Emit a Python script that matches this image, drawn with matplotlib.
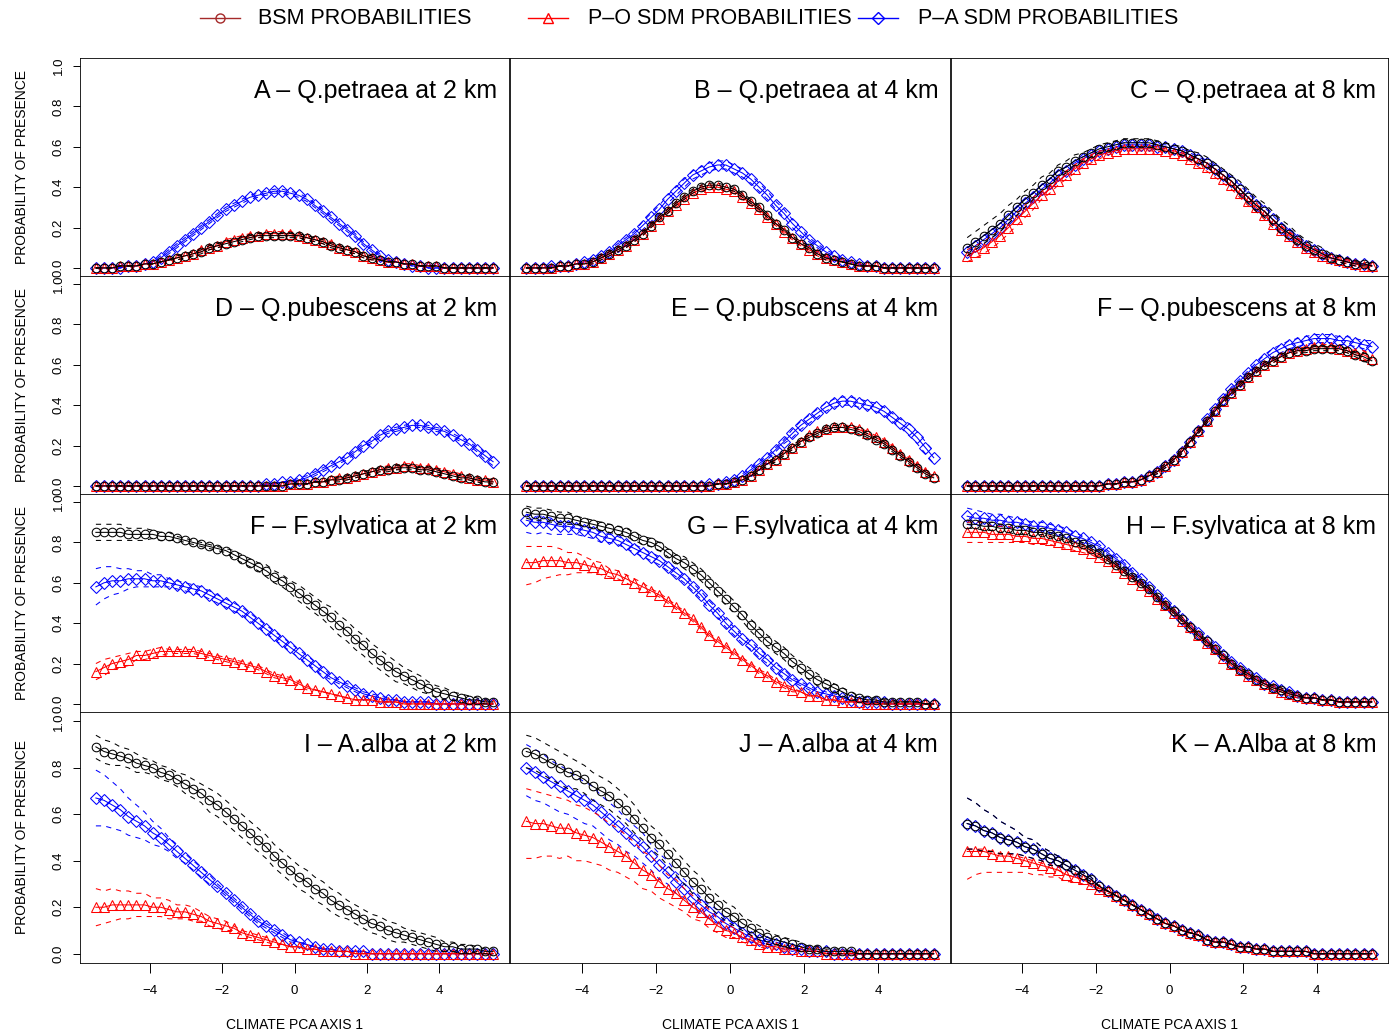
import numpy as np
import matplotlib
matplotlib.use("Agg")
import matplotlib.pyplot as plt

plt.rcParams['font.family'] = ['Liberation Sans', 'DejaVu Sans']

# climate PCA axis 1 sampling grid (50 points)
x = np.linspace(-5.5, 5.5, 50)

# ---- probabilities in percent; *_ci = half width of the dashed band (percent) ----
# Q. petraea 2 km
pet2_bsm = [0, 0, 0, 1, 1, 1, 2, 2, 3, 4,
            5, 6, 7, 8, 10, 11, 12, 13, 14, 15,
            16, 16, 16, 16, 16, 16, 15, 14, 13, 11,
            10, 9, 8, 6, 5, 4, 3, 3, 2, 2,
            1, 1, 1, 0, 0, 0, 0, 0, 0, 0]
pet2_po = [0, 0, 0, 1, 1, 1, 2, 2, 3, 4,
           5, 6, 7, 9, 10, 11, 13, 14, 15, 16,
           16, 17, 17, 17, 17, 16, 15, 14, 13, 12,
           10, 9, 8, 6, 5, 4, 3, 3, 2, 2,
           1, 1, 1, 0, 0, 0, 0, 0, 0, 0]
pet2_pa = [0, 0, 0, 0, 1, 1, 2, 3, 5, 8,
           11, 14, 17, 20, 23, 26, 29, 31, 33, 35,
           36, 37, 38, 38, 37, 36, 34, 31, 28, 25,
           22, 19, 16, 12, 9, 6, 4, 3, 2, 1,
           1, 0, 0, 0, 0, 0, 0, 0, 0, 0]
pet2_ci = [0, 0, 0, 0, 0, 0, 0, 0, 0, 0,
           1, 1, 1, 1, 1, 1, 1, 1, 1, 1,
           1, 1, 1, 1, 1, 1, 1, 1, 1, 1,
           1, 1, 1, 1, 1, 0, 0, 0, 0, 0,
           0, 0, 0, 0, 0, 0, 0, 0, 0, 0]
pet2_pa_ci = [0, 0, 0, 0, 0, 0, 0, 0, 1, 1,
              1, 1, 1, 1, 1, 1, 1, 1, 1, 1,
              1, 1, 1, 1, 1, 1, 1, 1, 1, 1,
              1, 1, 1, 1, 1, 1, 0, 0, 0, 0,
              0, 0, 0, 0, 0, 0, 0, 0, 0, 0]

# Q. petraea 4 km
pet4_bsm = [0, 0, 0, 0, 1, 1, 2, 2, 3, 5,
            7, 9, 11, 14, 17, 21, 25, 28, 32, 35,
            38, 40, 41, 41, 40, 39, 36, 33, 30, 26,
            22, 19, 15, 12, 10, 7, 5, 4, 3, 2,
            1, 1, 1, 0, 0, 0, 0, 0, 0, 0]
pet4_po = [0, 0, 0, 0, 1, 1, 2, 2, 3, 5,
           7, 9, 11, 14, 17, 21, 24, 28, 31, 34,
           37, 39, 40, 40, 39, 38, 35, 32, 29, 25,
           22, 18, 15, 12, 9, 7, 5, 4, 3, 2,
           1, 1, 1, 0, 0, 0, 0, 0, 0, 0]
pet4_pa = [0, 0, 0, 1, 1, 1, 2, 3, 4, 6,
           8, 11, 14, 17, 21, 25, 29, 34, 38, 42,
           46, 48, 50, 51, 51, 49, 47, 44, 40, 36,
           31, 27, 22, 18, 14, 11, 8, 6, 4, 3,
           2, 1, 1, 0, 0, 0, 0, 0, 0, 0]
pet4_ci = [0, 0, 0, 0, 0, 0, 0, 0, 1, 1,
           1, 1, 1, 1, 1, 1, 1, 1, 1, 1,
           1, 1, 1, 1, 1, 1, 1, 1, 1, 1,
           1, 1, 1, 1, 1, 1, 1, 0, 0, 0,
           0, 0, 0, 0, 0, 0, 0, 0, 0, 0]
pet4_pa_ci = [0, 0, 0, 0, 0, 0, 0, 1, 1, 1,
              1, 1, 1, 1, 2, 2, 2, 2, 2, 2,
              2, 2, 2, 2, 2, 2, 2, 2, 2, 2,
              2, 2, 2, 2, 1, 1, 1, 1, 1, 0,
              0, 0, 0, 0, 0, 0, 0, 0, 0, 0]

# Q. petraea 8 km
pet8_bsm = [10, 13, 16, 19, 22, 26, 30, 34, 37, 41,
            44, 48, 50, 53, 55, 57, 59, 60, 61, 62,
            62, 62, 62, 61, 60, 59, 58, 56, 54, 52,
            49, 46, 43, 39, 35, 31, 28, 24, 20, 17,
            14, 11, 9, 7, 5, 4, 3, 2, 2, 1]
pet8_po = [6, 8, 10, 13, 16, 20, 24, 28, 32, 36,
           39, 43, 46, 49, 52, 54, 56, 57, 58, 59,
           59, 59, 59, 59, 58, 57, 56, 54, 52, 50,
           47, 44, 41, 37, 33, 30, 26, 22, 19, 16,
           13, 10, 8, 6, 5, 4, 3, 2, 1, 1]
pet8_pa = [8, 11, 14, 17, 20, 24, 28, 32, 35, 39,
           42, 46, 48, 51, 54, 56, 58, 59, 60, 61,
           61, 61, 61, 60, 60, 59, 58, 56, 54, 52,
           49, 46, 43, 39, 35, 31, 28, 24, 20, 17,
           14, 11, 9, 7, 5, 4, 3, 2, 2, 1]
pet8_bsm_hi = [5, 5, 5, 5, 5, 5, 4, 4, 4, 4,
               3, 3, 3, 3, 2, 2, 2, 2, 2, 2,
               2, 2, 2, 2, 2, 2, 2, 2, 3, 3,
               3, 3, 3, 4, 4, 4, 4, 4, 4, 4,
               3, 3, 3, 3, 2, 2, 2, 1, 1, 1]
pet8_bsm_lo = [4, 4, 4, 4, 4, 4, 4, 4, 3, 3,
               3, 3, 3, 2, 2, 2, 2, 2, 2, 2,
               2, 2, 2, 2, 2, 2, 2, 2, 2, 2,
               2, 2, 2, 3, 3, 3, 3, 3, 3, 3,
               2, 2, 2, 2, 2, 1, 1, 1, 1, 0]
pet8_po_ci = [3, 3, 3, 3, 3, 3, 3, 3, 3, 2,
              2, 2, 2, 2, 2, 2, 2, 1, 1, 1,
              1, 1, 1, 1, 1, 1, 1, 1, 2, 2,
              2, 2, 2, 2, 2, 2, 2, 2, 2, 2,
              2, 2, 2, 1, 1, 1, 1, 1, 1, 0]
pet8_pa_ci = [2, 2, 2, 2, 2, 2, 2, 2, 2, 2,
              2, 2, 2, 1, 1, 1, 1, 1, 1, 1,
              1, 1, 1, 1, 1, 1, 1, 1, 1, 1,
              1, 1, 2, 2, 2, 2, 2, 2, 2, 2,
              1, 1, 1, 1, 1, 1, 1, 1, 0, 0]

# Q. pubescens 2 km
pub2_bsm = [0, 0, 0, 0, 0, 0, 0, 0, 0, 0,
            0, 0, 0, 0, 0, 0, 0, 0, 0, 0,
            0, 0, 0, 0, 1, 1, 1, 2, 2, 3,
            3, 4, 5, 6, 7, 8, 8, 9, 9, 9,
            8, 8, 7, 6, 5, 4, 4, 3, 2, 2]
pub2_po = [0, 0, 0, 0, 0, 0, 0, 0, 0, 0,
           0, 0, 0, 0, 0, 0, 0, 0, 0, 0,
           0, 0, 0, 0, 1, 1, 1, 2, 2, 3,
           4, 4, 5, 6, 7, 8, 9, 9, 10, 10,
           9, 9, 8, 7, 6, 5, 4, 3, 3, 2]
pub2_pa = [0, 0, 0, 0, 0, 0, 0, 0, 0, 0,
           0, 0, 0, 0, 0, 0, 0, 0, 0, 0,
           0, 1, 1, 2, 2, 3, 4, 6, 8, 10,
           12, 14, 17, 20, 22, 25, 27, 28, 29, 30,
           30, 29, 28, 27, 25, 23, 21, 18, 15, 12]
pub2_ci = [0, 0, 0, 0, 0, 0, 0, 0, 0, 0,
           0, 0, 0, 0, 0, 0, 0, 0, 0, 0,
           0, 0, 0, 0, 0, 0, 0, 0, 0, 1,
           1, 1, 1, 1, 1, 1, 1, 1, 1, 1,
           1, 1, 1, 1, 1, 1, 1, 1, 1, 1]
pub2_pa_ci = [0, 0, 0, 0, 0, 0, 0, 0, 0, 0,
              0, 0, 0, 0, 0, 0, 0, 0, 0, 0,
              0, 0, 0, 0, 0, 1, 1, 1, 1, 1,
              1, 1, 1, 1, 1, 1, 1, 1, 1, 1,
              1, 1, 1, 1, 1, 1, 1, 1, 2, 2]

# Q. pubescens 4 km
pub4_bsm = [0, 0, 0, 0, 0, 0, 0, 0, 0, 0,
            0, 0, 0, 0, 0, 0, 0, 0, 0, 0,
            0, 0, 0, 1, 1, 2, 3, 5, 8, 11,
            13, 16, 19, 22, 24, 26, 28, 29, 29, 28,
            27, 25, 23, 21, 18, 15, 12, 9, 6, 4]
pub4_po = [0, 0, 0, 0, 0, 0, 0, 0, 0, 0,
           0, 0, 0, 0, 0, 0, 0, 0, 0, 0,
           0, 0, 0, 1, 1, 2, 3, 5, 8, 11,
           13, 16, 19, 22, 25, 27, 28, 29, 29, 29,
           28, 26, 24, 22, 19, 16, 13, 10, 7, 5]
pub4_pa = [0, 0, 0, 0, 0, 0, 0, 0, 0, 0,
           0, 0, 0, 0, 0, 0, 0, 0, 0, 0,
           0, 0, 1, 1, 2, 3, 5, 8, 11, 14,
           18, 22, 26, 30, 33, 36, 39, 41, 42, 42,
           41, 40, 39, 37, 34, 31, 28, 24, 19, 14]
pub4_ci = [0, 0, 0, 0, 0, 0, 0, 0, 0, 0,
           0, 0, 0, 0, 0, 0, 0, 0, 0, 0,
           0, 0, 0, 0, 0, 0, 1, 1, 1, 1,
           1, 1, 1, 1, 1, 1, 1, 1, 1, 1,
           1, 1, 1, 1, 1, 1, 1, 1, 1, 1]
pub4_pa_ci = [0, 0, 0, 0, 0, 0, 0, 0, 0, 0,
              0, 0, 0, 0, 0, 0, 0, 0, 0, 0,
              0, 0, 0, 0, 1, 1, 1, 1, 1, 1,
              1, 1, 2, 2, 2, 2, 2, 2, 2, 2,
              2, 2, 2, 2, 2, 2, 3, 3, 3, 3]

# Q. pubescens 8 km
pub8_bsm = [0, 0, 0, 0, 0, 0, 0, 0, 0, 0,
            0, 0, 0, 0, 0, 0, 0, 1, 1, 2,
            2, 3, 5, 7, 10, 13, 17, 22, 27, 32,
            37, 42, 46, 50, 54, 57, 60, 62, 64, 66,
            67, 67, 68, 68, 68, 68, 67, 65, 64, 62]
pub8_po = [0, 0, 0, 0, 0, 0, 0, 0, 0, 0,
           0, 0, 0, 0, 0, 0, 0, 1, 1, 2,
           2, 3, 5, 7, 10, 13, 17, 22, 27, 32,
           37, 42, 46, 50, 54, 57, 60, 62, 64, 66,
           67, 68, 69, 69, 69, 68, 67, 66, 65, 63]
pub8_pa = [0, 0, 0, 0, 0, 0, 0, 0, 0, 0,
           0, 0, 0, 0, 0, 0, 0, 1, 1, 2,
           2, 3, 5, 7, 10, 13, 17, 22, 27, 33,
           38, 43, 48, 52, 56, 60, 63, 66, 68, 70,
           71, 72, 73, 73, 73, 72, 72, 71, 70, 69]
pub8_ci = [0, 0, 0, 0, 0, 0, 0, 0, 0, 0,
           0, 0, 0, 0, 0, 0, 0, 0, 0, 0,
           0, 0, 0, 1, 1, 1, 1, 1, 1, 1,
           1, 1, 1, 1, 1, 1, 1, 1, 1, 1,
           1, 1, 1, 1, 1, 1, 1, 1, 2, 2]
pub8_pa_ci = [0, 0, 0, 0, 0, 0, 0, 0, 0, 0,
              0, 0, 0, 0, 0, 0, 0, 0, 0, 0,
              0, 0, 1, 1, 1, 1, 1, 1, 1, 1,
              1, 1, 1, 1, 1, 1, 2, 2, 2, 2,
              2, 2, 2, 2, 2, 2, 2, 2, 2, 3]

# F. sylvatica 2 km
syl2_bsm = [85, 85, 85, 85, 84, 84, 84, 84, 83, 83,
            82, 81, 80, 79, 78, 77, 76, 74, 72, 70,
            68, 66, 63, 61, 58, 55, 52, 49, 46, 43,
            39, 36, 32, 29, 25, 22, 19, 16, 14, 12,
            10, 8, 6, 5, 4, 3, 2, 2, 1, 1]
syl2_po = [16, 18, 20, 21, 22, 24, 24, 25, 26, 26,
           26, 26, 26, 25, 24, 23, 22, 21, 20, 19,
           18, 16, 14, 13, 12, 10, 8, 7, 6, 5,
           4, 3, 2, 2, 2, 1, 1, 1, 0, 0,
           0, 0, 0, 0, 0, 0, 0, 0, 0, 0]
syl2_pa = [58, 60, 61, 61, 62, 62, 62, 61, 61, 60,
           59, 58, 57, 56, 54, 52, 50, 48, 46, 43,
           40, 37, 34, 31, 28, 25, 22, 19, 16, 13,
           11, 9, 7, 5, 4, 3, 2, 2, 1, 1,
           1, 1, 0, 0, 0, 0, 0, 0, 0, 0]
syl2_bsm_ci = [4, 4, 4, 4, 3, 3, 3, 2, 2, 2,
               1, 1, 1, 1, 1, 1, 1, 2, 2, 2,
               2, 3, 3, 3, 3, 4, 4, 4, 4, 5,
               5, 5, 5, 5, 5, 5, 5, 5, 4, 4,
               4, 3, 3, 3, 2, 2, 2, 1, 1, 1]
syl2_po_ci = [4, 4, 3, 3, 3, 2, 2, 2, 2, 1,
              1, 1, 1, 1, 1, 1, 1, 1, 1, 1,
              1, 1, 1, 1, 1, 1, 1, 0, 0, 0,
              0, 0, 0, 0, 0, 0, 0, 0, 0, 0,
              0, 0, 0, 0, 0, 0, 0, 0, 0, 0]
syl2_pa_ci = [9, 8, 7, 6, 5, 4, 4, 3, 3, 2,
              2, 2, 2, 2, 2, 2, 2, 2, 2, 2,
              2, 2, 2, 2, 2, 2, 2, 2, 2, 1,
              1, 1, 1, 1, 1, 1, 1, 0, 0, 0,
              0, 0, 0, 0, 0, 0, 0, 0, 0, 0]

# F. sylvatica 4 km
syl4_bsm = [95, 94, 94, 93, 92, 92, 91, 90, 89, 88,
            87, 86, 85, 83, 81, 80, 78, 75, 72, 70,
            67, 64, 60, 56, 52, 48, 44, 39, 35, 31,
            28, 25, 21, 18, 15, 12, 10, 8, 6, 4,
            3, 2, 2, 1, 1, 1, 1, 1, 0, 0]
syl4_po = [70, 70, 71, 71, 71, 70, 70, 69, 68, 67,
           65, 64, 62, 60, 58, 56, 54, 51, 48, 45,
           42, 38, 34, 31, 28, 25, 22, 19, 16, 14,
           11, 9, 7, 6, 4, 4, 2, 2, 1, 1,
           1, 0, 0, 0, 0, 0, 0, 0, 0, 0]
syl4_pa = [91, 90, 90, 89, 88, 88, 87, 86, 85, 83,
           82, 81, 79, 77, 75, 73, 71, 68, 65, 62,
           58, 54, 49, 45, 40, 36, 32, 29, 25, 22,
           18, 15, 12, 10, 8, 6, 5, 4, 3, 2,
           1, 1, 1, 1, 0, 0, 0, 0, 0, 0]
syl4_bsm_ci = [3, 3, 3, 3, 3, 3, 2, 2, 2, 2,
               2, 2, 2, 2, 2, 2, 2, 2, 2, 3,
               3, 3, 3, 3, 3, 3, 3, 3, 3, 3,
               3, 3, 3, 3, 3, 3, 2, 2, 2, 2,
               1, 1, 1, 1, 1, 0, 0, 0, 0, 0]
syl4_po_hi = [8, 8, 7, 7, 6, 5, 5, 4, 3, 3,
              2, 2, 2, 2, 2, 1, 1, 1, 1, 1,
              1, 1, 1, 1, 1, 1, 1, 1, 1, 1,
              1, 1, 1, 0, 0, 0, 0, 0, 0, 0,
              0, 0, 0, 0, 0, 0, 0, 0, 0, 0]
syl4_po_lo = [11, 10, 9, 8, 7, 6, 5, 4, 3, 3,
              2, 2, 2, 2, 2, 1, 1, 1, 1, 1,
              1, 1, 1, 1, 1, 1, 1, 1, 1, 1,
              1, 1, 1, 0, 0, 0, 0, 0, 0, 0,
              0, 0, 0, 0, 0, 0, 0, 0, 0, 0]
syl4_pa_hi = [3, 3, 3, 3, 2, 2, 2, 2, 2, 2,
              2, 2, 2, 2, 2, 2, 2, 2, 2, 2,
              2, 2, 2, 2, 2, 2, 2, 2, 2, 2,
              2, 2, 1, 1, 1, 1, 1, 1, 1, 0,
              0, 0, 0, 0, 0, 0, 0, 0, 0, 0]
syl4_pa_lo = [6, 6, 5, 5, 4, 4, 3, 3, 3, 3,
              2, 2, 2, 2, 2, 2, 2, 2, 2, 2,
              2, 2, 2, 2, 2, 2, 2, 2, 2, 2,
              2, 2, 1, 1, 1, 1, 1, 1, 1, 0,
              0, 0, 0, 0, 0, 0, 0, 0, 0, 0]

# F. sylvatica 8 km
syl8_bsm = [89, 89, 88, 88, 87, 87, 86, 86, 85, 85,
            84, 83, 82, 80, 79, 77, 75, 72, 69, 66,
            63, 60, 57, 53, 49, 46, 42, 38, 34, 31,
            27, 24, 20, 17, 15, 12, 10, 8, 7, 5,
            4, 3, 3, 2, 2, 1, 1, 1, 1, 1]
syl8_po = [85, 85, 85, 84, 84, 84, 83, 83, 82, 82,
           81, 80, 79, 78, 77, 75, 73, 71, 68, 65,
           62, 59, 56, 52, 49, 45, 41, 38, 34, 30,
           27, 23, 20, 17, 14, 12, 10, 8, 6, 5,
           4, 3, 3, 2, 2, 1, 1, 1, 1, 1]
syl8_pa = [93, 92, 92, 91, 91, 90, 90, 89, 88, 88,
           87, 86, 85, 83, 82, 80, 78, 75, 72, 69,
           65, 62, 58, 54, 50, 46, 42, 38, 35, 31,
           28, 24, 21, 18, 15, 13, 10, 9, 7, 6,
           4, 3, 3, 2, 2, 1, 1, 1, 1, 1]
syl8_bsm_ci = [2, 2, 2, 2, 2, 2, 2, 2, 2, 1,
               1, 1, 1, 1, 1, 1, 1, 1, 1, 1,
               1, 1, 1, 1, 1, 1, 1, 1, 1, 1,
               1, 1, 1, 1, 1, 1, 1, 1, 1, 1,
               1, 0, 0, 0, 0, 0, 0, 0, 0, 0]
syl8_po_ci = [5, 5, 5, 4, 4, 4, 3, 3, 3, 3,
              2, 2, 2, 2, 2, 1, 1, 1, 1, 1,
              1, 1, 1, 1, 1, 1, 1, 1, 1, 1,
              1, 1, 1, 1, 1, 1, 1, 1, 1, 1,
              1, 0, 0, 0, 0, 0, 0, 0, 0, 0]
syl8_pa_ci = [4, 4, 3, 3, 3, 3, 2, 2, 2, 2,
              2, 2, 2, 2, 1, 1, 1, 1, 1, 1,
              1, 1, 1, 1, 1, 1, 1, 1, 1, 1,
              1, 1, 1, 1, 1, 1, 1, 1, 1, 1,
              1, 0, 0, 0, 0, 0, 0, 0, 0, 0]

# A. alba 2 km
alb2_bsm = [89, 87, 86, 85, 84, 82, 81, 80, 78, 77,
            75, 73, 71, 69, 66, 64, 61, 58, 55, 52,
            49, 46, 42, 39, 36, 33, 31, 28, 26, 23,
            21, 19, 17, 15, 13, 12, 10, 9, 8, 7,
            6, 5, 4, 3, 3, 2, 2, 2, 1, 1]
alb2_po = [20, 20, 21, 21, 21, 21, 21, 20, 20, 19,
           18, 18, 17, 16, 14, 13, 12, 11, 9, 8,
           7, 6, 5, 4, 3, 3, 2, 2, 1, 1,
           1, 1, 0, 0, 0, 0, 0, 0, 0, 0,
           0, 0, 0, 0, 0, 0, 0, 0, 0, 0]
alb2_pa = [67, 66, 64, 62, 59, 57, 55, 52, 50, 47,
           44, 41, 38, 35, 32, 29, 26, 23, 20, 17,
           14, 12, 10, 8, 6, 5, 4, 3, 2, 2,
           1, 1, 1, 1, 0, 0, 0, 0, 0, 0,
           0, 0, 0, 0, 0, 0, 0, 0, 0, 0]
alb2_bsm_ci = [5, 5, 5, 4, 4, 4, 3, 3, 3, 3,
               3, 4, 4, 4, 5, 5, 5, 5, 5, 5,
               5, 5, 5, 5, 5, 5, 5, 5, 5, 5,
               5, 4, 4, 4, 4, 4, 4, 4, 3, 3,
               3, 3, 3, 2, 2, 2, 2, 1, 1, 1]
alb2_po_ci = [8, 7, 7, 6, 6, 5, 5, 4, 4, 4,
              3, 3, 3, 2, 2, 2, 2, 1, 1, 1,
              1, 1, 1, 0, 0, 0, 0, 0, 0, 0,
              0, 0, 0, 0, 0, 0, 0, 0, 0, 0,
              0, 0, 0, 0, 0, 0, 0, 0, 0, 0]
alb2_pa_ci = [12, 11, 10, 9, 8, 7, 6, 5, 4, 3,
              3, 2, 2, 2, 2, 1, 1, 1, 1, 1,
              1, 1, 1, 1, 1, 0, 0, 0, 0, 0,
              0, 0, 0, 0, 0, 0, 0, 0, 0, 0,
              0, 0, 0, 0, 0, 0, 0, 0, 0, 0]

# A. alba 4 km
alb4_bsm = [87, 86, 84, 82, 80, 78, 77, 75, 72, 70,
            68, 65, 62, 58, 54, 50, 47, 43, 39, 35,
            31, 28, 24, 21, 18, 16, 13, 11, 9, 7,
            6, 5, 4, 3, 2, 2, 1, 1, 1, 1,
            0, 0, 0, 0, 0, 0, 0, 0, 0, 0]
alb4_po = [57, 56, 56, 55, 54, 54, 52, 51, 50, 48,
           46, 44, 42, 39, 36, 34, 31, 28, 26, 23,
           20, 18, 15, 12, 10, 9, 7, 6, 4, 3,
           3, 2, 2, 1, 1, 1, 0, 0, 0, 0,
           0, 0, 0, 0, 0, 0, 0, 0, 0, 0]
alb4_pa = [80, 78, 76, 74, 72, 70, 68, 66, 64, 61,
           58, 55, 52, 49, 46, 42, 38, 35, 31, 28,
           24, 21, 18, 16, 13, 11, 9, 7, 6, 5,
           4, 3, 2, 2, 1, 1, 1, 0, 0, 0,
           0, 0, 0, 0, 0, 0, 0, 0, 0, 0]
alb4_bsm_ci = [7, 7, 7, 7, 7, 7, 6, 6, 6, 6,
               6, 6, 6, 6, 5, 5, 5, 5, 5, 5,
               5, 5, 4, 4, 4, 4, 3, 3, 3, 3,
               2, 2, 2, 2, 1, 1, 1, 1, 1, 0,
               0, 0, 0, 0, 0, 0, 0, 0, 0, 0]
alb4_po_hi = [14, 14, 13, 13, 13, 12, 12, 12, 11, 11,
              10, 10, 9, 9, 8, 8, 7, 6, 6, 5,
              5, 4, 4, 3, 3, 2, 2, 2, 1, 1,
              1, 1, 0, 0, 0, 0, 0, 0, 0, 0,
              0, 0, 0, 0, 0, 0, 0, 0, 0, 0]
alb4_po_lo = [16, 15, 14, 13, 13, 12, 12, 11, 11, 10,
              10, 9, 9, 8, 8, 7, 7, 6, 6, 5,
              5, 4, 4, 3, 3, 2, 2, 2, 1, 1,
              1, 1, 0, 0, 0, 0, 0, 0, 0, 0,
              0, 0, 0, 0, 0, 0, 0, 0, 0, 0]
alb4_pa_hi = [10, 10, 10, 9, 9, 9, 8, 8, 8, 7,
              7, 7, 6, 6, 6, 5, 5, 5, 4, 4,
              4, 3, 3, 3, 2, 2, 2, 2, 1, 1,
              1, 1, 1, 0, 0, 0, 0, 0, 0, 0,
              0, 0, 0, 0, 0, 0, 0, 0, 0, 0]
alb4_pa_lo = [12, 12, 11, 11, 11, 10, 10, 10, 9, 9,
              9, 8, 8, 7, 7, 6, 6, 5, 5, 4,
              4, 4, 3, 3, 3, 2, 2, 2, 1, 1,
              1, 1, 1, 0, 0, 0, 0, 0, 0, 0,
              0, 0, 0, 0, 0, 0, 0, 0, 0, 0]

# A. alba 8 km
alb8_bsm = [56, 55, 53, 52, 50, 49, 48, 46, 45, 43,
            41, 40, 38, 36, 34, 32, 29, 27, 25, 23,
            21, 19, 17, 15, 13, 12, 10, 9, 8, 6,
            5, 5, 4, 3, 3, 2, 2, 1, 1, 1,
            1, 1, 0, 0, 0, 0, 0, 0, 0, 0]
alb8_po = [44, 44, 44, 43, 42, 42, 41, 40, 39, 38,
           37, 36, 34, 33, 32, 30, 28, 27, 25, 23,
           21, 19, 17, 15, 13, 12, 10, 9, 8, 6,
           5, 5, 4, 3, 3, 2, 2, 1, 1, 1,
           1, 1, 0, 0, 0, 0, 0, 0, 0, 0]
alb8_pa = [56, 55, 53, 52, 50, 49, 48, 46, 45, 43,
           41, 40, 38, 36, 34, 32, 29, 27, 25, 23,
           21, 19, 17, 15, 13, 12, 10, 9, 8, 6,
           5, 5, 4, 3, 3, 2, 2, 1, 1, 1,
           1, 1, 0, 0, 0, 0, 0, 0, 0, 0]
alb8_ci = [11, 10, 9, 8, 7, 6, 5, 4, 4, 3,
           3, 2, 2, 1, 1, 1, 0, 0, 0, 0,
           0, 0, 0, 0, 0, 0, 0, 0, 0, 0,
           0, 0, 0, 0, 0, 0, 0, 0, 0, 0,
           0, 0, 0, 0, 0, 0, 0, 0, 0, 0]
alb8_po_hi = [1, 1, 1, 1, 1, 1, 1, 1, 1, 1,
              0, 0, 0, 0, 0, 0, 0, 0, 0, 0,
              0, 0, 0, 0, 0, 0, 0, 0, 0, 0,
              0, 0, 0, 0, 0, 0, 0, 0, 0, 0,
              0, 0, 0, 0, 0, 0, 0, 0, 0, 0]
alb8_po_lo = [12, 10, 9, 8, 7, 7, 6, 5, 5, 4,
              4, 3, 3, 2, 2, 1, 1, 1, 0, 0,
              0, 0, 0, 0, 0, 0, 0, 0, 0, 0,
              0, 0, 0, 0, 0, 0, 0, 0, 0, 0,
              0, 0, 0, 0, 0, 0, 0, 0, 0, 0]

titles = ["A – Q.petraea at 2 km", "B – Q.petraea at 4 km", "C – Q.petraea at 8 km",
          "D – Q.pubescens at 2 km", "E – Q.pubscens at 4 km", "F – Q.pubescens at 8 km",
          "F – F.sylvatica at 2 km", "G – F.sylvatica at 4 km", "H – F.sylvatica at 8 km",
          "I – A.alba at 2 km", "J – A.alba at 4 km", "K – A.Alba at 8 km"]

# per panel: (P-A, P-O, BSM), each as (mean, lower offset, upper offset)
panels = [
    [(pet2_pa, pet2_pa_ci, pet2_pa_ci), (pet2_po, pet2_ci, pet2_ci), (pet2_bsm, pet2_ci, pet2_ci)],
    [(pet4_pa, pet4_pa_ci, pet4_pa_ci), (pet4_po, pet4_ci, pet4_ci), (pet4_bsm, pet4_ci, pet4_ci)],
    [(pet8_pa, pet8_pa_ci, pet8_pa_ci), (pet8_po, pet8_po_ci, pet8_po_ci), (pet8_bsm, pet8_bsm_lo, pet8_bsm_hi)],
    [(pub2_pa, pub2_pa_ci, pub2_pa_ci), (pub2_po, pub2_ci, pub2_ci), (pub2_bsm, pub2_ci, pub2_ci)],
    [(pub4_pa, pub4_pa_ci, pub4_pa_ci), (pub4_po, pub4_ci, pub4_ci), (pub4_bsm, pub4_ci, pub4_ci)],
    [(pub8_pa, pub8_pa_ci, pub8_pa_ci), (pub8_po, pub8_ci, pub8_ci), (pub8_bsm, pub8_ci, pub8_ci)],
    [(syl2_pa, syl2_pa_ci, syl2_pa_ci), (syl2_po, syl2_po_ci, syl2_po_ci), (syl2_bsm, syl2_bsm_ci, syl2_bsm_ci)],
    [(syl4_pa, syl4_pa_lo, syl4_pa_hi), (syl4_po, syl4_po_lo, syl4_po_hi), (syl4_bsm, syl4_bsm_ci, syl4_bsm_ci)],
    [(syl8_pa, syl8_pa_ci, syl8_pa_ci), (syl8_po, syl8_po_ci, syl8_po_ci), (syl8_bsm, syl8_bsm_ci, syl8_bsm_ci)],
    [(alb2_pa, alb2_pa_ci, alb2_pa_ci), (alb2_po, alb2_po_ci, alb2_po_ci), (alb2_bsm, alb2_bsm_ci, alb2_bsm_ci)],
    [(alb4_pa, alb4_pa_lo, alb4_pa_hi), (alb4_po, alb4_po_lo, alb4_po_hi), (alb4_bsm, alb4_bsm_ci, alb4_bsm_ci)],
    [(alb8_pa, alb8_ci, alb8_ci), (alb8_po, alb8_po_lo, alb8_po_hi), (alb8_bsm, alb8_ci, alb8_ci)],
]

legend_labels = ["BSM PROBABILITIES", "P–O SDM PROBABILITIES", "P–A SDM PROBABILITIES"]

# colour, marker, marker size for P-A, P-O, BSM (drawing order)
styles = [("#0000FF", "D", 5.8), ("#FF0000", "^", 7.0), ("#000000", "o", 6.2)]
DASH = (0, (5, 5))

W, H = 1400, 1034
col_left = [80, 510, 951]
col_w = [429, 440, 437]
row_top = [58, 276, 494, 712]
row_h = [218, 218, 218, 251]

fig = plt.figure(figsize=(W / 100, H / 100), dpi=100)

for k, curves in enumerate(panels):
    r, c = divmod(k, 3)
    ax = fig.add_axes([col_left[c] / W, 1 - (row_top[r] + row_h[r]) / H,
                       col_w[c] / W, row_h[r] / H])
    for (mean, dlo, dhi), (col, mk, ms) in zip(curves, styles):
        m = np.array(mean) / 100
        lo = m - np.array(dlo) / 100
        hi = m + np.array(dhi) / 100
        ax.plot(x, hi, color=col, lw=0.75, ls=DASH)
        ax.plot(x, lo, color=col, lw=0.75, ls=DASH)
        ax.plot(x, m, color=col, lw=0.75, marker=mk, ms=ms, mfc='none', mec=col, mew=0.75)
    ax.set_xlim(-5.94, 5.94)
    ax.set_ylim(-0.04, 1.04)
    for s in ax.spines.values():
        s.set_linewidth(0.6)
    ax.annotate(titles[k], xy=(1, 1), xycoords='axes fraction',
                xytext=(-8.5, -23.5), textcoords='offset points',
                ha='right', va='center', fontsize=18)
    if c == 0:
        ax.set_yticks([0, 0.2, 0.4, 0.6, 0.8, 1.0])
        ax.set_yticklabels(["0.0", "0.2", "0.4", "0.6", "0.8", "1.0"],
                           rotation=90, va='center')
        ax.tick_params(axis='y', direction='out', length=5, width=0.7,
                       pad=6, labelsize=9.5)
        ax.set_ylabel("PROBABILITY OF PRESENCE", fontsize=10, labelpad=17)
    else:
        ax.set_yticks([])
    if r == 3:
        ax.set_xticks([-4, -2, 0, 2, 4])
        ax.tick_params(axis='x', direction='out', length=7, width=0.7,
                       pad=9, labelsize=9.5)
        ax.set_xlabel("CLIMATE PCA AXIS 1", fontsize=10, labelpad=15)
    else:
        ax.set_xticks([])

# legend across the top
leg = fig.add_axes([0, 0, 1, 1], facecolor='none')
leg.set_xlim(0, W)
leg.set_ylim(H, 0)
leg.axis('off')
leg_items = [(200, 258, "#A52A2A", "o", 6.5), (528, 588, "#FF0000", "^", 7.5),
             (858, 918, "#0000FF", "D", 6.0)]
for (x0, tx, col, mk, ms), lab in zip(leg_items, legend_labels):
    leg.plot([x0, x0 + 40], [18, 18], color=col, lw=1.0)
    leg.plot([x0 + 20], [18], color=col, marker=mk, ms=ms, mfc='none', mew=1.0)
    leg.text(tx, 18.5, lab, fontsize=15.5, va='center', ha='left')

fig.savefig("out.png", dpi=100)
